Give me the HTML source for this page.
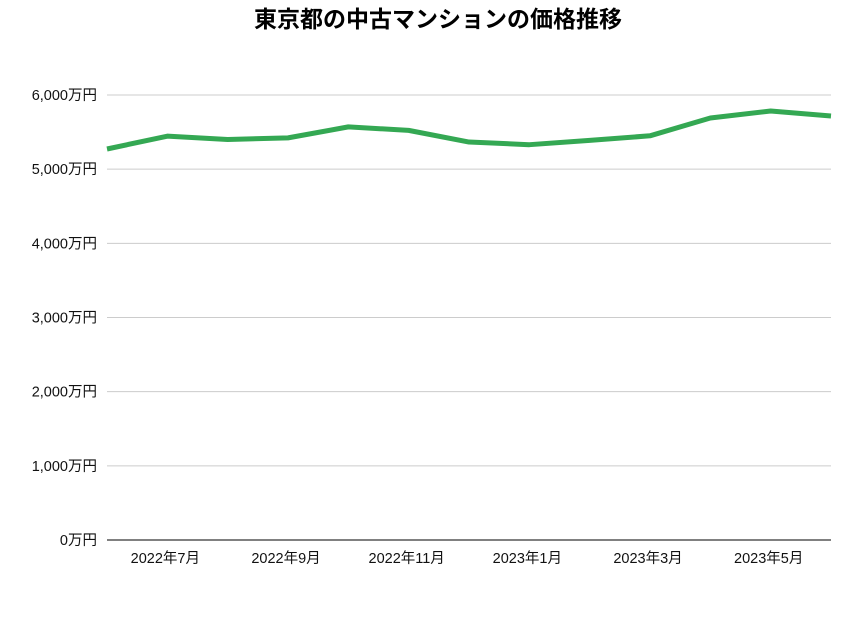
<!DOCTYPE html>
<html><head><meta charset="utf-8"><style>
body{margin:0;background:#fff;font-family:"Liberation Sans","Noto Sans CJK JP",sans-serif;}
svg text{font-family:"Liberation Sans","Noto Sans CJK JP",sans-serif;}
</style></head><body>
<svg id="chart" width="865" height="612">
<text x="438" y="27" text-anchor="middle" font-size="23" font-weight="bold" fill="#000">東京都の中古マンションの価格推移</text>
<g id="grid"></g><g id="xlabels"></g><g id="series"></g>
</svg>
<script>
const months=["2022年6月","2022年7月","2022年8月","2022年9月","2022年10月","2022年11月","2022年12月","2023年1月","2023年2月","2023年3月","2023年4月","2023年5月","2023年6月"];
const prices=[5272,5445,5400,5422,5570,5523,5366,5330,5388,5450,5690,5784,5717];
const yTicks=[0,1000,2000,3000,4000,5000,6000];
const yTickLabels=["0万円","1,000万円","2,000万円","3,000万円","4,000万円","5,000万円","6,000万円"];
const labelIdx=[1,3,5,7,9,11];
const NS="http://www.w3.org/2000/svg";
const x0=107,x1=831,yBase=540,yTop=95;
const xs=i=>x0+(x1-x0)*i/(months.length-1);
const ys=v=>yBase-(yBase-yTop)*v/6000;
function mk(tag,attrs,parent){const e=document.createElementNS(NS,tag);for(const k in attrs)e.setAttribute(k,attrs[k]);parent.appendChild(e);return e;}
const grid=document.getElementById('grid');
yTicks.forEach((t,i)=>{
  const l=mk('line',{x1:x0,x2:x1,y1:ys(t),y2:ys(t),stroke:t===0?'#000':'#ccc','stroke-width':1},grid);
  
  
  const tx=mk('text',{x:97,y:ys(t)+5,'text-anchor':'end','font-size':14.5,fill:'#111'},grid);
  tx.textContent=yTickLabels[i];
  
  
});
const xl=document.getElementById('xlabels');
labelIdx.forEach(i=>{
  const tx=mk('text',{x:xs(i)-2,y:563,'text-anchor':'middle','font-size':14.5,fill:'#111'},xl);
  tx.textContent=months[i];
  
  
});
const pts=prices.map((v,i)=>xs(i)+','+ys(v)).join(' ');
const pl=mk('polyline',{points:pts,fill:'none',stroke:'#34a853','stroke-width':5,'stroke-linejoin':'round'},document.getElementById('series'));


</script>
</body></html>
